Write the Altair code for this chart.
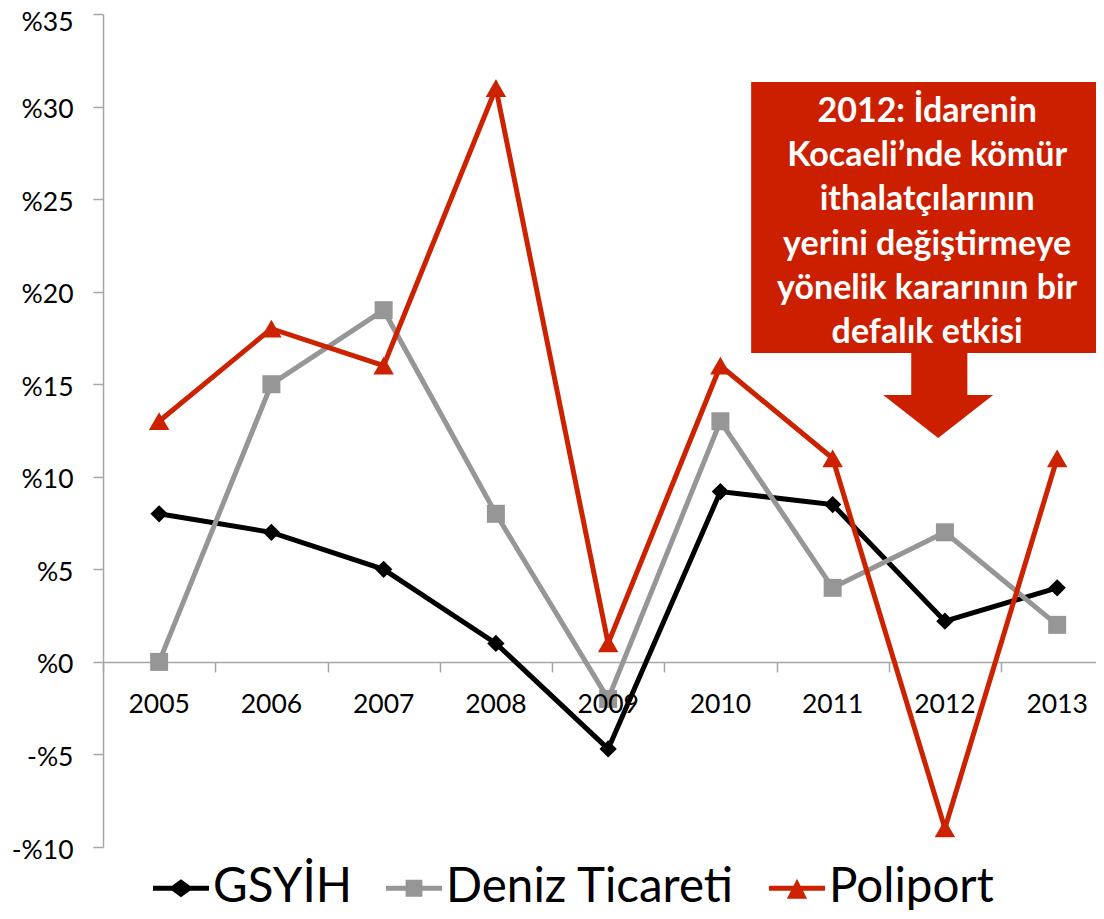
import altair as alt
import pandas as pd

# ---- data ----
years = [2005, 2006, 2007, 2008, 2009, 2010, 2011, 2012, 2013]
gsyih = [8.0, 7.0, 5.0, 1.0, -4.7, 9.2, 8.5, 2.2, 4.0]
deniz = [0.0, 15.0, 19.0, 8.0, -2.0, 13.0, 4.0, 7.0, 2.0]
poliport = [13.0, 18.0, 16.0, 31.0, 1.0, 16.0, 11.0, -9.0, 11.0]
series_names = ["GSYİH", "Deniz Ticareti", "Poliport"]
series_colors = ["#000000", "#969696", "#CC2200"]
y_ticks = [-10, -5, 0, 5, 10, 15, 20, 25, 30, 35]
x_tick_edges = [2004.5, 2005.5, 2006.5, 2007.5, 2008.5, 2009.5, 2010.5, 2011.5, 2012.5, 2013.5]
annotation_text = ("2012: İdarenin\nKocaeli’nde kömür\nithalatçılarının\n"
                   "yerini değiştirmeye\nyönelik kararının bir\ndefalık etkisi")

FONT = "Lato"
RED = "#CC1F00"

rows = []
for name, vals in zip(series_names, [gsyih, deniz, poliport]):
    for yr, v in zip(years, vals):
        rows.append({"year": yr, "value": v, "series": name})
df = pd.DataFrame(rows)
year_df = pd.DataFrame({"year": years, "value": [0] * len(years), "label": [str(y) for y in years]})

xs = alt.Scale(domain=[2004.5, 2013.346], nice=False, zero=False)
ys = alt.Scale(domain=[-10, 35], nice=False, zero=False)
cs = alt.Scale(domain=series_names, range=series_colors)

x_axis = alt.Axis(values=x_tick_edges, labels=False, title=None, grid=False,
                  domainColor="#A6A6A6", domainWidth=1.5, tickColor="#A6A6A6",
                  tickWidth=1.5, tickSize=10, offset=-185.1)
y_axis = alt.Axis(values=y_ticks, title=None, grid=False,
                  domainColor="#A6A6A6", domainWidth=1.5, tickColor="#A6A6A6",
                  tickWidth=1.5, tickSize=10, labelPadding=20,
                  labelOffset={"condition": {"test": "datum.value == 35", "value": 8}, "value": 3},
                  labelFont=FONT, labelFontSize=26.5, labelColor="#000000",
                  labelExpr="datum.value < 0 ? '-%' + abs(datum.value) : '%' + datum.value")

X = alt.X("year:Q", scale=xs, axis=x_axis)
Y = alt.Y("value:Q", scale=ys, axis=y_axis)

# legend-only layer (tiny points hidden under markers)
legend_shapes = [
    "M-1,-0.09H-0.32L0,-0.32L0.32,-0.09H1V0.09H0.32L0,0.32L-0.32,0.09H-1Z",
    "M-1,-0.09H-0.3V-0.3H0.3V-0.09H1V0.09H0.3V0.3H-0.3V0.09H-1Z",
    "M-1,-0.09H-0.126L0,-0.34L0.126,-0.09H1V0.09H0.217L0.36,0.375H-0.36L-0.217,0.09H-1Z",
]
legend_layer = alt.Chart(df).mark_point(filled=True, size=1, opacity=1, strokeWidth=0).encode(
    x=X, y=Y,
    color=alt.Color("series:N", scale=cs, sort=series_names,
                    legend=alt.Legend(title=None, orient="none", direction="horizontal",
                                      legendX=50, legendY=846, labelFont=FONT,
                                      labelFontSize=47.5, labelColor="#000000",
                                      symbolSize=3136, symbolStrokeWidth=0,
                                      labelOffset=4, columnPadding=34, padding=0,
                                      labelLimit=600)),
    shape=alt.Shape("series:N", sort=series_names,
                    scale=alt.Scale(domain=series_names, range=legend_shapes)))

series_layers = []
for name, col, shp, sz in zip(series_names, series_colors,
                              ["diamond", "square", "triangle-up"], [300, 324, 420]):
    base = alt.Chart(df).transform_filter(alt.datum.series == name)
    series_layers.append(base.mark_line(strokeWidth=5, color=col).encode(x=X, y=Y))
    series_layers.append(base.mark_point(filled=True, opacity=1, shape=shp, size=sz,
                                         strokeWidth=0, color=col).encode(x=X, y=Y))

year_labels = alt.Chart(year_df).mark_text(
    font=FONT, fontSize=26.5, color="#000000", baseline="middle", align="center", dy=43
).encode(x=X, y=Y, text="label:N")

# ---- annotation (data coordinates) ----
box_df = pd.DataFrame({"x1": [2010.274], "x2": [2013.6], "y1": [31.33], "y2": [16.69]})
shaft_df = pd.DataFrame({"x1": [2011.70], "x2": [2012.20], "y1": [16.75], "y2": [14.3]})
head_df = pd.DataFrame({"x": [2011.94], "y": [13.26]})
text_df = pd.DataFrame({"x": [2011.842], "y": [29.17], "t": [annotation_text]})

box = alt.Chart(box_df).mark_rect(color=RED).encode(
    x=alt.X("x1:Q", scale=xs, axis=x_axis), x2="x2:Q",
    y=alt.Y("y1:Q", scale=ys, axis=y_axis), y2="y2:Q")
shaft = alt.Chart(shaft_df).mark_rect(color=RED).encode(
    x=alt.X("x1:Q", scale=xs, axis=x_axis), x2="x2:Q",
    y=alt.Y("y1:Q", scale=ys, axis=y_axis), y2="y2:Q")
head = alt.Chart(head_df).mark_point(
    filled=True, opacity=1, color=RED, size=12100, strokeWidth=0,
    shape="M-1,-0.39L1,-0.39L0,0.39Z").encode(
    x=alt.X("x:Q", scale=xs, axis=x_axis), y=alt.Y("y:Q", scale=ys, axis=y_axis))
ann_text = alt.Chart(text_df).mark_text(
    font=FONT, fontSize=34, fontWeight="bold", color="#FFFFFF", align="center",
    baseline="alphabetic", lineBreak="\n", lineHeight=44.2).encode(
    x=alt.X("x:Q", scale=xs, axis=x_axis), y=alt.Y("y:Q", scale=ys, axis=y_axis), text="t:N")

chart = alt.layer(
    legend_layer, *series_layers, year_labels, box, shaft, head, ann_text
).properties(
    width=993, height=833,
    autosize=alt.AutoSizeParams(type="none"),
    padding={"left": 95, "top": 6, "right": 0, "bottom": 70},
).configure_view(stroke=None)

chart.save("out.html", embed_options={"renderer": "svg", "actions": False})
